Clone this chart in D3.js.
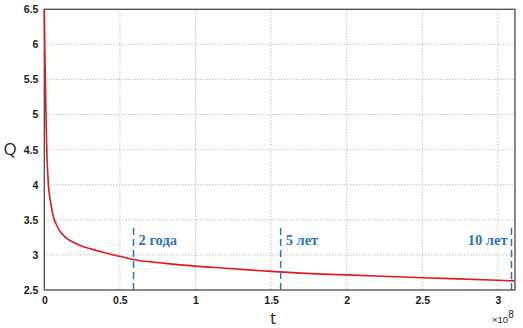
<!DOCTYPE html>
<html><head><meta charset="utf-8">
<script src="https://cdn.jsdelivr.net/npm/d3@7"></script>
<style>body{margin:0;background:#fff}svg{display:block}</style>
</head><body><svg id="c" width="523" height="328"></svg>
<script>
const tValues = [0,0.003,0.007,0.011,0.016,0.022,0.027,0.034,0.042,0.053,0.066,0.08,0.1,0.14,0.2,0.3,0.4,0.5,0.6,0.8,1.0,1.2,1.5,1.8,2.0,2.5,3.0,3.11];
const qValues = [6.5,6.0,5.5,5.0,4.5,4.2,4.0,3.86,3.75,3.61,3.5,3.43,3.35,3.25,3.17,3.09,3.03,2.98,2.93,2.88,2.84,2.81,2.765,2.73,2.715,2.675,2.64,2.63];
const xTicks = [0,0.5,1,1.5,2,2.5,3];
const yTicks = [2.5,3,3.5,4,4.5,5,5.5,6,6.5];
const markerT = [0.59,1.563,3.09];
const markerLabels = ["2 года","5 лет","10 лет"];
const xMax = 3.113;

const svg = d3.select("#c");
const L=44.3, R=515, T=9.3, B=290;
const x = d3.scaleLinear().domain([0,xMax]).range([L,R]);
const y = d3.scaleLinear().domain([2.5,6.5]).range([B,T]);

// grid
const g = svg.append("g");
g.selectAll(".gx").data(xTicks.filter(d=>d>0)).enter().append("line")
 .attr("x1",d=>x(d)).attr("x2",d=>x(d)).attr("y1",T).attr("y2",B)
 .attr("stroke","#a8a8a8").attr("stroke-width",1).attr("stroke-dasharray","1,2");
g.selectAll(".gy").data(yTicks.filter(d=>d>2.5&&d<6.5)).enter().append("line")
 .attr("y1",d=>y(d)).attr("y2",d=>y(d)).attr("x1",L).attr("x2",R)
 .attr("stroke","#a8a8a8").attr("stroke-width",1).attr("stroke-dasharray","1,2");

// axes
const fontTick = "'Liberation Sans', Arial, sans-serif";
const xa = svg.append("g").attr("transform",`translate(0,${B})`)
 .call(d3.axisBottom(x).tickValues(xTicks).tickSize(0).tickPadding(7).tickFormat(d=>d3.format("")(d)));
const ya = svg.append("g").attr("transform",`translate(${L},0)`)
 .call(d3.axisLeft(y).tickValues(yTicks).tickSize(0).tickPadding(6).tickFormat(d=>d3.format("")(d)));
[xa,ya].forEach(a=>{a.select(".domain").remove();
 a.selectAll("text").attr("font-family",fontTick).attr("font-weight","bold").attr("font-size","10.5px").attr("fill","#1a1a1a");});

// frame
svg.append("rect").attr("x",L).attr("y",T).attr("width",R-L).attr("height",B-T)
 .attr("fill","none").attr("stroke","#4a4a4a").attr("stroke-width",1.3);

// curve
const data = tValues.map((t,i)=>[t,qValues[i]]);
svg.append("path").datum(data)
 .attr("d",d3.line().x(d=>x(d[0])).y(d=>y(d[1])).curve(d3.curveMonotoneX))
 .attr("fill","none").attr("stroke","#e3191c").attr("stroke-width",1.6);

// markers
const blue="#2e75b6";
svg.selectAll(".mk").data(markerT).enter().append("line")
 .attr("x1",d=>x(d)).attr("x2",d=>x(d)).attr("y1",228).attr("y2",B)
 .attr("stroke",blue).attr("stroke-width",1.5).attr("stroke-dasharray","7,4");
svg.selectAll(".ml").data(markerT).enter().append("text")
 .attr("x",(d,i)=> i<2 ? x(d)+5 : x(d)-4)
 .attr("y",245)
 .attr("text-anchor",(d,i)=> i<2 ? "start":"end")
 .attr("font-family","'Liberation Serif', 'DejaVu Serif', serif")
 .attr("font-weight","bold").attr("font-size","14.5px").attr("fill",blue)
 .text((d,i)=>markerLabels[i]);

// axis labels
svg.append("text").attr("x",10).attr("y",155).attr("text-anchor","middle")
 .attr("font-family","'Open Sans', sans-serif").attr("font-size","17px").attr("fill","#222").text("Q");
svg.append("text").attr("x",273).attr("y",324).attr("text-anchor","middle")
 .attr("font-family","'Open Sans', sans-serif").attr("font-size","17px").attr("fill","#222").text("t");
const ex = svg.append("text").attr("x",492).attr("y",323)
 .attr("font-family",fontTick).attr("font-size","9.5px").attr("fill","#222");
ex.append("tspan").text("×10");
ex.append("tspan").attr("dy",-5).attr("font-size","10px").text("8");
</script></body></html>
